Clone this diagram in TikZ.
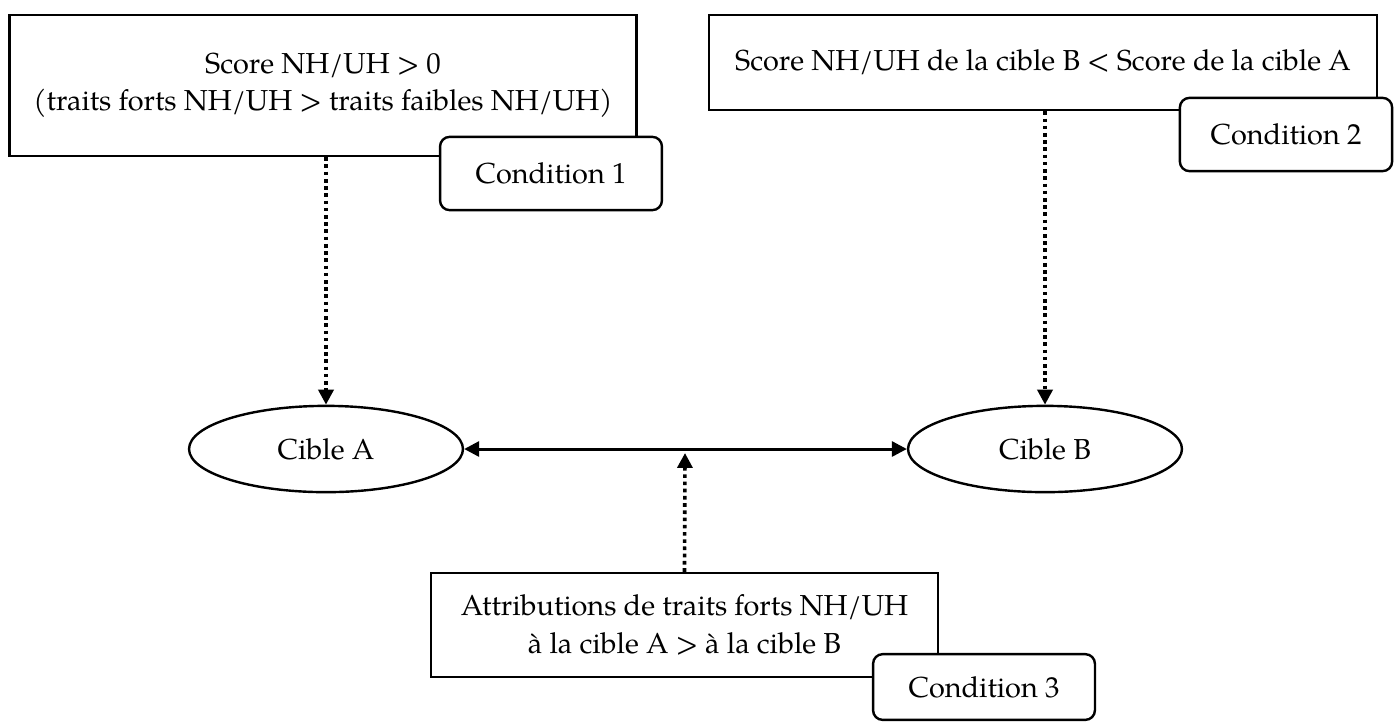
\documentclass[tikz,border=0pt]{standalone}
\usepackage{fontspec}
\setmainfont{TeX Gyre Pagella}
\usetikzlibrary{shapes.geometric,arrows.meta}
\tikzset{
    mainbox/.style={draw, line width=1pt, fill=white, align=center, inner sep=2pt},
    condbox/.style={draw, line width=1pt, fill=white, rounded corners=4pt,
        minimum width=3.24cm, minimum height=1.07cm},
    cible/.style={draw, ellipse, line width=1pt, minimum width=4cm, minimum height=1.26cm},
    fleche/.tip={Triangle[length=6.2pt,width=6.2pt]},
    dotarrow/.style={line width=1.5pt, dash pattern=on 1.5pt off 1.5pt, -{fleche}},
}
\begin{document}
\begin{tikzpicture}[x=0.01461cm, y=-0.01461cm, font=\fontsize{12}{15.5}\selectfont]
    \useasboundingbox (0,0) rectangle (1395,722);

    % Condition boxes
    \node[mainbox, minimum width=9.15cm, minimum height=2.06cm] (scoreA) at (323,85.5)
        {Score NH/UH > 0\\(traits forts NH/UH > traits faibles NH/UH)};
    \node[condbox] (cond1) at (551,173.5) {Condition 1};

    \node[mainbox, minimum width=9.76cm, minimum height=1.39cm] (scoreB) at (1043,62.5)
        {Score NH/UH de la cible B < Score de la cible A};
    \node[condbox, minimum width=3.10cm] (cond2) at (1286,134.5) {Condition 2};

    \node[mainbox, minimum width=7.41cm, minimum height=1.52cm] (attrib) at (684.5,625)
        {Attributions de traits forts NH/UH\\à la cible A > à la cible B};
    \node[condbox, minimum height=0.96cm] (cond3) at (984,687) {Condition 3};

    % Targets
    \node[cible] (cibleA) at (326,449) {Cible A};
    \node[cible] (cibleB) at (1045,449) {Cible B};

    % Links
    \draw[line width=1.25pt, {fleche}-{fleche}] (cibleA.east) -- (cibleB.west);
    \coordinate (lien) at (685,453);

    \draw[dotarrow] (scoreA.south -| cibleA.north) -- (cibleA.north);
    \draw[dotarrow] (scoreB.south -| cibleB.north) -- (cibleB.north);
    \draw[dotarrow] (attrib.north) -- (lien);
\end{tikzpicture}
\end{document}
